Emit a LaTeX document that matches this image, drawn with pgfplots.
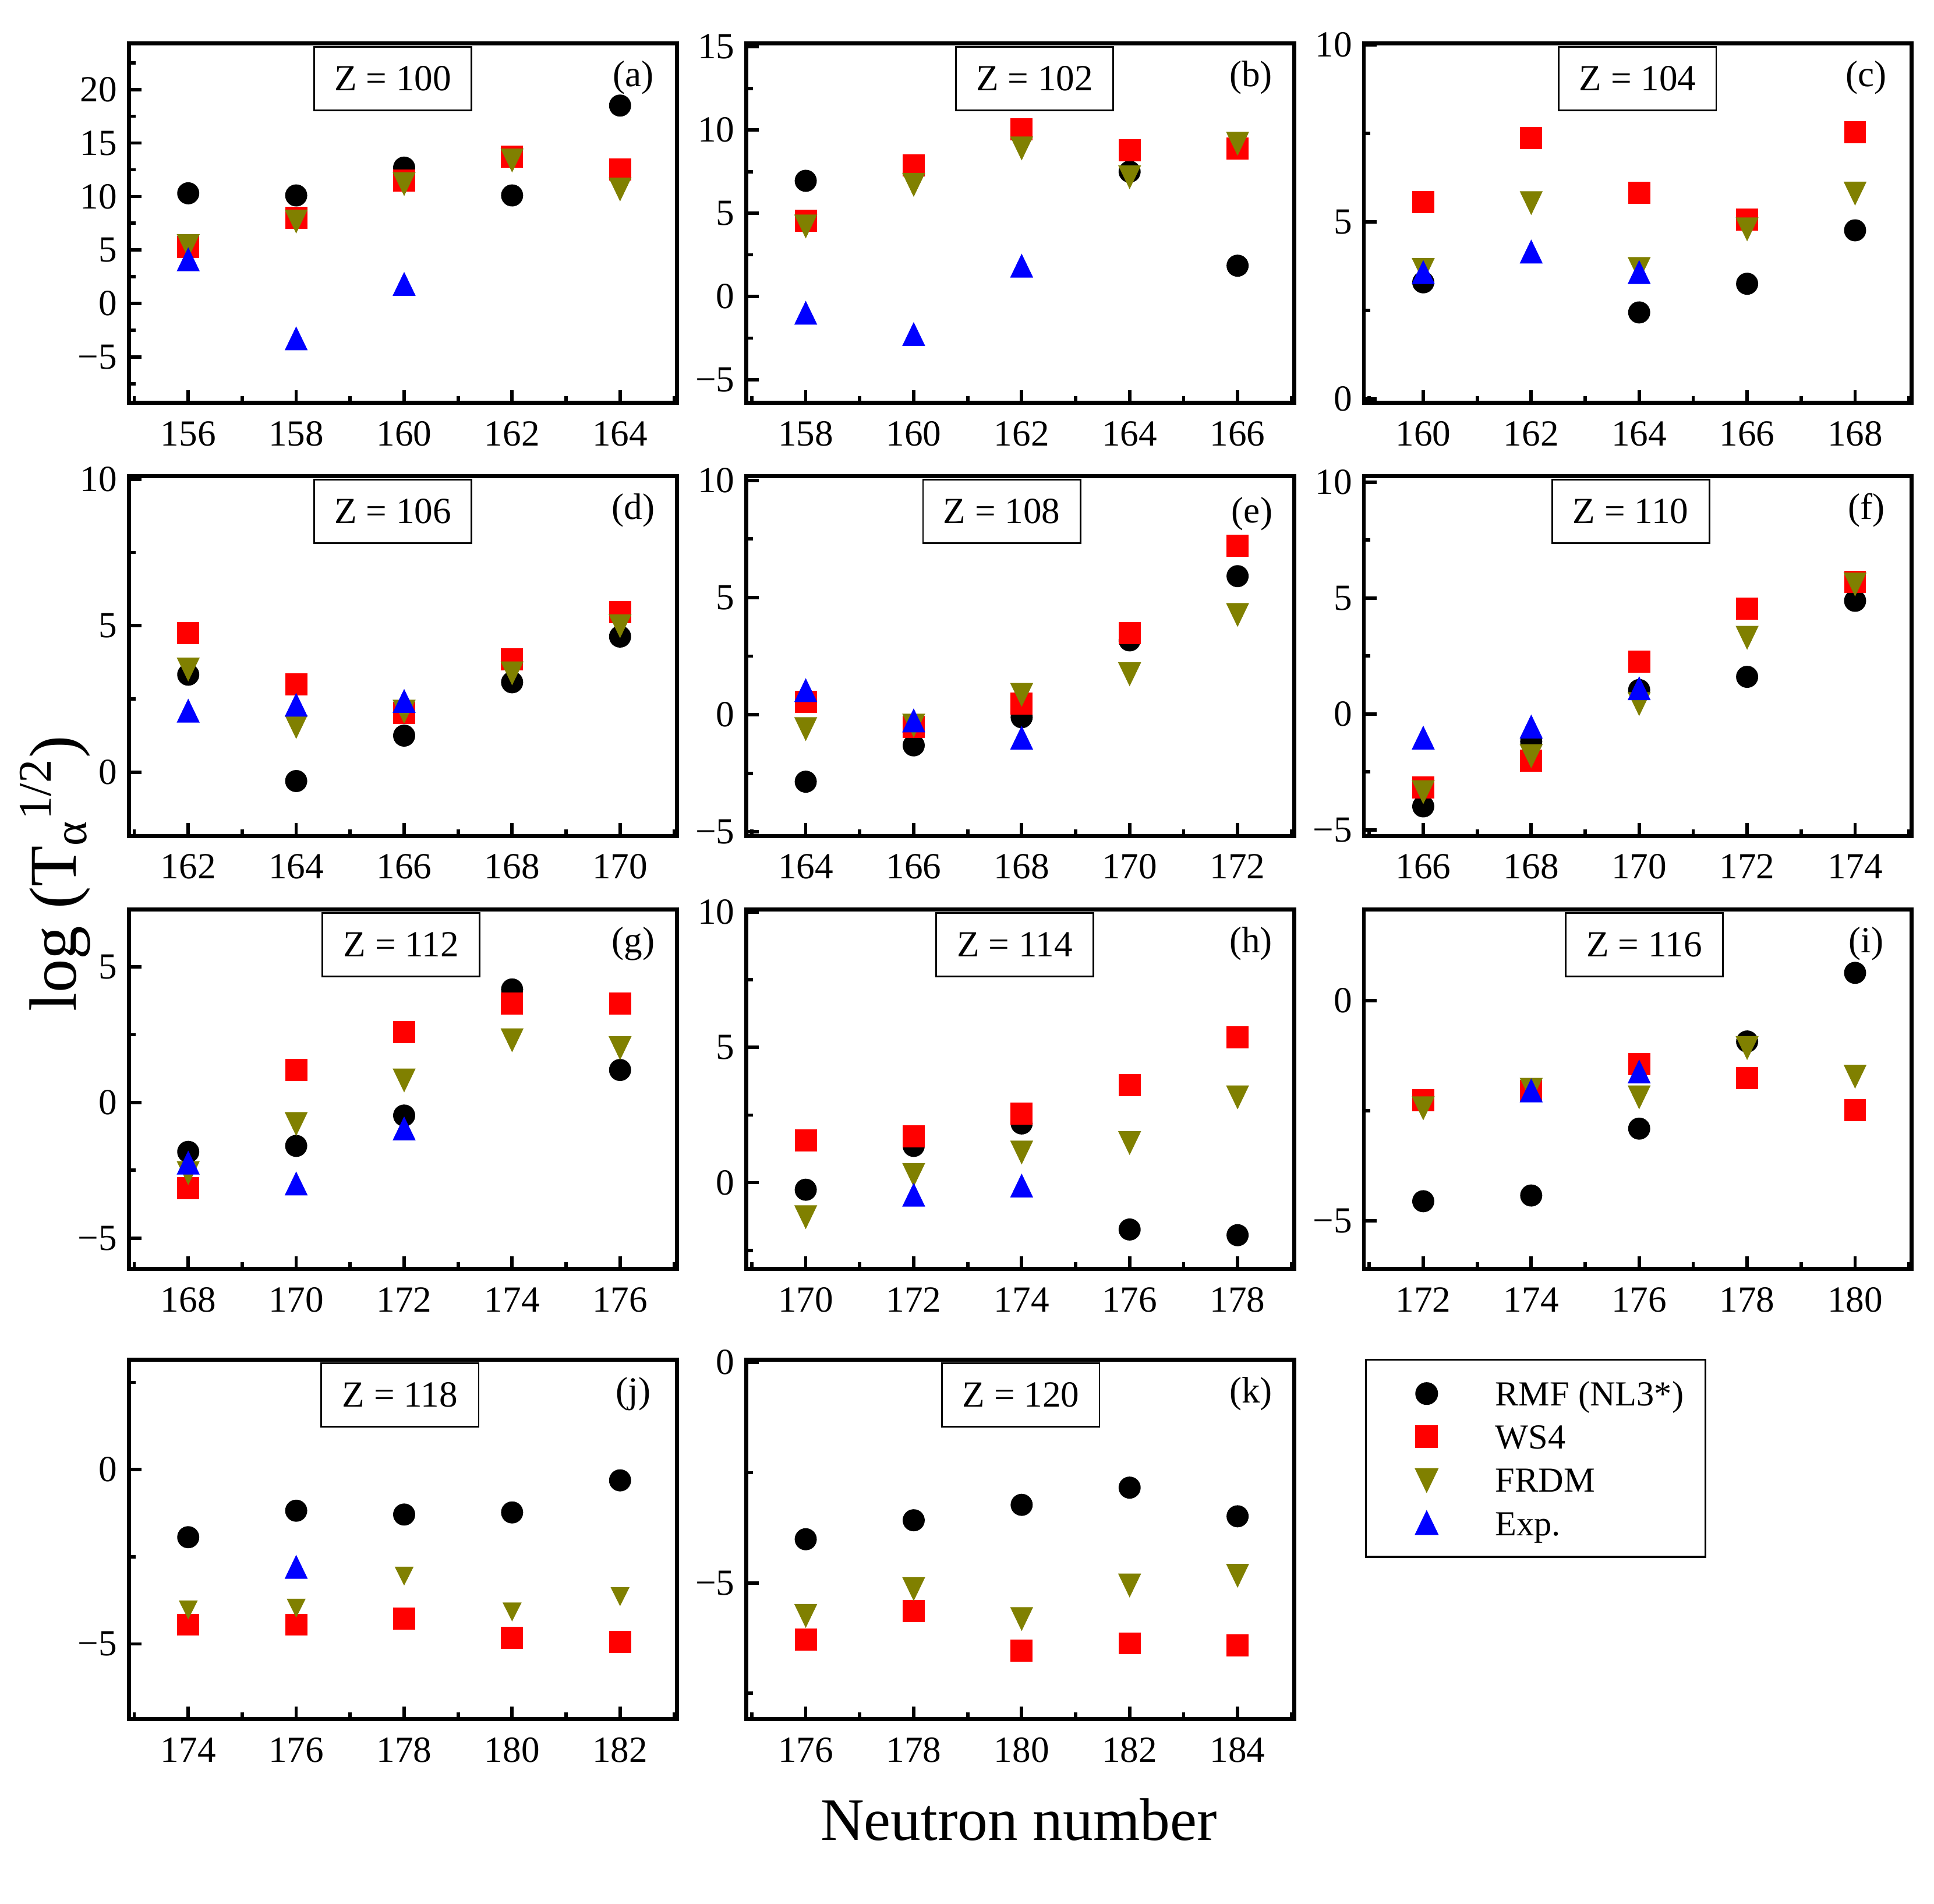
\documentclass[border=0pt]{standalone}
\usepackage{fontspec}
\setmainfont{Liberation Serif}
\usepackage{pgfplots}
\pgfplotsset{compat=1.18}

\definecolor{frdmolive}{HTML}{808000}
\definecolor{wsred}{HTML}{FF0000}
\definecolor{expblue}{HTML}{0000FF}

\newcommand{\lblfont}{\fontsize{11}{13}\selectfont}

\pgfplotsset{
  panel/.style={
    scale only axis, width=163.7pt, height=107.4pt,
    anchor=north west,
    axis line style={line width=1.2pt},
    tick align=inside, tick pos=left,
    major tick length=3.8pt, minor tick length=2pt,
    every tick/.append style={black, line width=1pt},
    tick label style={font=\lblfont},
    /pgf/number format/assume math mode=true,
    xticklabel style={yshift=-2pt},
    minor xtick={151,153,...,189},
    minor ytick={-12.5,-7.5,...,22.5},
    clip=false,
  },
  legimg/.style={legend image code/.code={\path (-14.9pt,0pt) (16.7pt,0pt); \draw[##1] plot coordinates {(0pt,0pt)};}},
  rmf/.style={only marks, mark=*, mark size=3.1pt, black, legimg},
  ws4/.style={only marks, mark=square*, mark size=3.1pt, wsred, legimg},
  frdm/.style={only marks, mark=triangle*, mark size=3.6pt, frdmolive,
    mark options={yshift=1.08pt, rotate=180, yscale=1.2}, legimg},
  expt/.style={only marks, mark=triangle*, mark size=3.6pt, expblue,
    mark options={yshift=-1.08pt, yscale=1.2}, legimg},
}
\tikzset{
  zbox/.style={draw, line width=0.5pt, minimum width=47pt, minimum height=19pt, anchor=north, font=\lblfont, fill=white},
  plab/.style={font=\lblfont},
}

\begin{document}
\begin{tikzpicture}
\useasboundingbox (0,0) rectangle (577.85pt,-568.8pt);

% (a) Z = 100
\begin{axis}[panel, at={(38.5pt,-13pt)},
  xmin=154.9, xmax=165.05, ymin=-9.3, ymax=24.3,
  xtick={156,158,...,164}, ytick={-5,0,...,20}, yticklabels={−5,0,5,10,15,20}]
\addplot[rmf] coordinates {(156,10.3) (158,10.1) (160,12.7) (162,10.1) (164,18.5)};
\addplot[ws4] coordinates {(156,5.3) (158,8.0) (160,11.5) (162,13.7) (164,12.5)};
\addplot[frdm] coordinates {(156,5.4) (158,7.7) (160,11.2) (162,13.4) (164,10.7)};
\addplot[expt] coordinates {(156,4.1) (158,-3.3) (160,1.8)};
\node[zbox] at (rel axis cs:0.482,0.993) {Z = 100};
\node[plab] at (rel axis cs:0.921,0.905) {(a)};
\end{axis}

% (b) Z = 102
\begin{axis}[panel, at={(223.0pt,-13pt)},
  xmin=156.9, xmax=167.05, ymin=-6.4, ymax=15.2,
  xtick={158,160,...,166}, ytick={-5,0,...,15}, yticklabels={−5,0,5,10,15}]
\addplot[rmf] coordinates {(158,6.95) (164,7.5) (166,1.85)};
\addplot[ws4] coordinates {(158,4.56) (160,7.86) (162,10.03) (164,8.78) (166,8.9)};
\addplot[frdm] coordinates {(158,4.23) (160,6.73) (162,8.92) (164,7.19) (166,9.2)};
\addplot[expt] coordinates {(158,-1.0) (160,-2.28) (162,1.83)};
\node[zbox] at (rel axis cs:0.526,0.993) {Z = 102};
\node[plab] at (rel axis cs:0.921,0.905) {(b)};
\end{axis}

% (c) Z = 104
\begin{axis}[panel, at={(407.5pt,-13pt)},
  xmin=158.9, xmax=169.05, ymin=-0.12, ymax=10.04,
  xtick={160,162,...,168}, ytick={0,5,10}, yticklabels={0,5,10}]
\addplot[rmf] coordinates {(160,3.29) (164,2.44) (166,3.25) (168,4.76)};
\addplot[ws4] coordinates {(160,5.55) (162,7.37) (164,5.82) (166,5.07) (168,7.54)};
\addplot[frdm] coordinates {(160,3.65) (162,5.54) (164,3.68) (166,4.8) (168,5.81)};
\addplot[expt] coordinates {(160,3.57) (162,4.15) (164,3.57)};
\node[zbox] at (rel axis cs:0.4995,0.993) {Z = 104};
\node[plab] at (rel axis cs:0.917,0.905) {(c)};
\end{axis}

% (d) Z = 106
\begin{axis}[panel, at={(38.5pt,-142.3pt)},
  xmin=160.9, xmax=171.05, ymin=-2.17, ymax=10.1,
  xtick={162,164,...,170}, ytick={0,5,10}, yticklabels={0,5,10}]
\addplot[rmf] coordinates {(162,3.33) (164,-0.30) (166,1.25) (168,3.07) (170,4.63)};
\addplot[ws4] coordinates {(162,4.75) (164,3.0) (166,2.02) (168,3.85) (170,5.47)};
\addplot[frdm] coordinates {(162,3.52) (164,1.56) (166,2.08) (168,3.39) (170,5.0)};
\addplot[expt] coordinates {(162,2.09) (164,2.29) (166,2.42)};
\node[zbox] at (rel axis cs:0.482,0.993) {Z = 106};
\node[plab] at (rel axis cs:0.921,0.905) {(d)};
\end{axis}

% (e) Z = 108
\begin{axis}[panel, at={(223.0pt,-142.3pt)},
  xmin=162.9, xmax=173.05, ymin=-5.17, ymax=10.17,
  xtick={164,166,...,172}, ytick={-5,0,5,10}, yticklabels={−5,0,5,10}]
\addplot[rmf] coordinates {(164,-2.86) (166,-1.31) (168,-0.11) (170,3.17) (172,5.91)};
\addplot[ws4] coordinates {(164,0.54) (166,-0.52) (168,0.47) (170,3.47) (172,7.2)};
\addplot[frdm] coordinates {(164,-0.6) (166,-0.45) (168,0.86) (170,1.74) (172,4.27)};
\addplot[expt] coordinates {(164,1.03) (166,-0.26) (168,-1.0)};
\node[zbox] at (rel axis cs:0.466,0.993) {Z = 108};
\node[plab] at (rel axis cs:0.923,0.895) {(e)};
\end{axis}

% (f) Z = 110
\begin{axis}[panel, at={(407.5pt,-142.3pt)},
  xmin=164.9, xmax=175.05, ymin=-5.26, ymax=10.25,
  xtick={166,168,...,174}, ytick={-5,0,5,10}, yticklabels={−5,0,5,10}]
\addplot[rmf] coordinates {(166,-3.99) (168,-1.19) (170,1.03) (172,1.6) (174,4.88)};
\addplot[ws4] coordinates {(166,-3.18) (168,-2.02) (170,2.25) (172,4.55) (174,5.7)};
\addplot[frdm] coordinates {(166,-3.36) (168,-1.81) (170,0.44) (172,3.3) (174,5.6)};
\addplot[expt] coordinates {(166,-1.04) (168,-0.56) (170,1.09)};
\node[zbox] at (rel axis cs:0.487,0.993) {Z = 110};
\node[plab] at (rel axis cs:0.917,0.905) {(f)};
\end{axis}

% (g) Z = 112
\begin{axis}[panel, at={(38.5pt,-271.7pt)},
  xmin=166.9, xmax=177.05, ymin=-6.14, ymax=7.12,
  xtick={168,170,...,176}, ytick={-5,0,5}, yticklabels={−5,0,5}]
\addplot[rmf] coordinates {(168,-1.82) (170,-1.6) (172,-0.48) (174,4.17) (176,1.2)};
\addplot[ws4] coordinates {(168,-3.15) (170,1.2) (172,2.59) (174,3.65) (176,3.65)};
\addplot[frdm] coordinates {(168,-2.59) (170,-0.78) (172,0.83) (174,2.31) (176,2.02)};
\addplot[expt] coordinates {(168,-2.23) (170,-3.0) (172,-0.97)};
\node[zbox] at (rel axis cs:0.497,0.993) {Z = 112};
\node[plab] at (rel axis cs:0.921,0.905) {(g)};
\end{axis}

% (h) Z = 114
\begin{axis}[panel, at={(223.0pt,-271.7pt)},
  xmin=168.9, xmax=179.05, ymin=-3.19, ymax=10.1,
  xtick={170,172,...,178}, ytick={0,5,10}, yticklabels={0,5,10}]
\addplot[rmf] coordinates {(170,-0.26) (172,1.36) (174,2.19) (176,-1.73) (178,-1.94)};
\addplot[ws4] coordinates {(170,1.57) (172,1.71) (174,2.55) (176,3.61) (178,5.37)};
\addplot[frdm] coordinates {(170,-1.26) (172,0.3) (174,1.13) (176,1.48) (178,3.17)};
\addplot[expt] coordinates {(172,-0.46) (174,-0.12)};
\node[zbox] at (rel axis cs:0.49,0.993) {Z = 114};
\node[plab] at (rel axis cs:0.921,0.905) {(h)};
\end{axis}

% (i) Z = 116
\begin{axis}[panel, at={(407.5pt,-271.7pt)},
  xmin=170.9, xmax=181.05, ymin=-6.1, ymax=2.07,
  xtick={172,174,...,180}, ytick={-5,0}, yticklabels={−5,0}]
\addplot[rmf] coordinates {(172,-4.56) (174,-4.43) (176,-2.91) (178,-0.93) (180,0.63)};
\addplot[ws4] coordinates {(172,-2.27) (174,-2.05) (176,-1.45) (178,-1.76) (180,-2.49)};
\addplot[frdm] coordinates {(172,-2.44) (174,-2.02) (176,-2.19) (178,-1.07) (180,-1.72)};
\addplot[expt] coordinates {(174,-2.05) (176,-1.62)};
\node[zbox] at (rel axis cs:0.512,0.993) {Z = 116};
\node[plab] at (rel axis cs:0.917,0.905) {(i)};
\end{axis}

% (j) Z = 118
\begin{axis}[panel, at={(38.5pt,-406.2pt)},
  xmin=172.9, xmax=183.05, ymin=-7.16, ymax=3.15,
  xtick={174,176,...,182}, ytick={-5,0}, yticklabels={−5,0}]
\addplot[rmf] coordinates {(174,-1.94) (176,-1.18) (178,-1.29) (180,-1.23) (182,-0.31)};
\addplot[ws4] coordinates {(174,-4.45) (176,-4.45) (178,-4.28) (180,-4.83) (182,-4.94)};
\addplot[frdm, mark size=2.9pt, mark options={yshift=0.8pt, rotate=180, yscale=1.15}] coordinates {(174,-4.01) (176,-3.96) (178,-3.04) (180,-4.07) (182,-3.63)};
\addplot[expt] coordinates {(176,-2.8)};
\node[zbox] at (rel axis cs:0.495,0.993) {Z = 118};
\node[plab] at (rel axis cs:0.921,0.905) {(j)};
\end{axis}

% (k) Z = 120, with the legend
\begin{axis}[panel, at={(223.0pt,-406.2pt)},
  xmin=174.9, xmax=185.05, ymin=-8.09, ymax=0.06,
  xtick={176,178,...,184}, ytick={-5,0}, yticklabels={−5,0},
  legend cell align=left,
  legend style={at={(1.1287,1.0026)}, anchor=north west, draw=black, line width=0.6pt,
    inner xsep=3pt, inner ysep=3.65pt, row sep=0pt, column sep=0pt,
    font=\fontsize{10.5}{12.5}\selectfont,
    nodes={inner xsep=3.5pt, inner ysep=0.6pt, text height=9.5pt, text depth=2.2pt}}]
\addplot[rmf] coordinates {(176,-4.01) (178,-3.58) (180,-3.23) (182,-2.84) (184,-3.49)};
\addplot[ws4] coordinates {(176,-6.29) (178,-5.64) (180,-6.54) (182,-6.37) (184,-6.42)};
\addplot[frdm] coordinates {(176,-5.74) (178,-5.13) (180,-5.81) (182,-5.05) (184,-4.83)};
\addlegendimage{expt}
\legend{RMF (NL3*),WS4,FRDM,Exp.}
\node[zbox] at (rel axis cs:0.501,0.993) {Z = 120};
\node[plab] at (rel axis cs:0.921,0.905) {(k)};
\end{axis}

\node[rotate=90, font=\fontsize{20}{24}\selectfont] at (16.5pt,-261pt) {log (T\textsubscript{α}\textsuperscript{1/2})};
\node[font=\fontsize{18}{22}\selectfont] at (304.4pt,-543.6pt) {Neutron number};
\end{tikzpicture}
\end{document}
